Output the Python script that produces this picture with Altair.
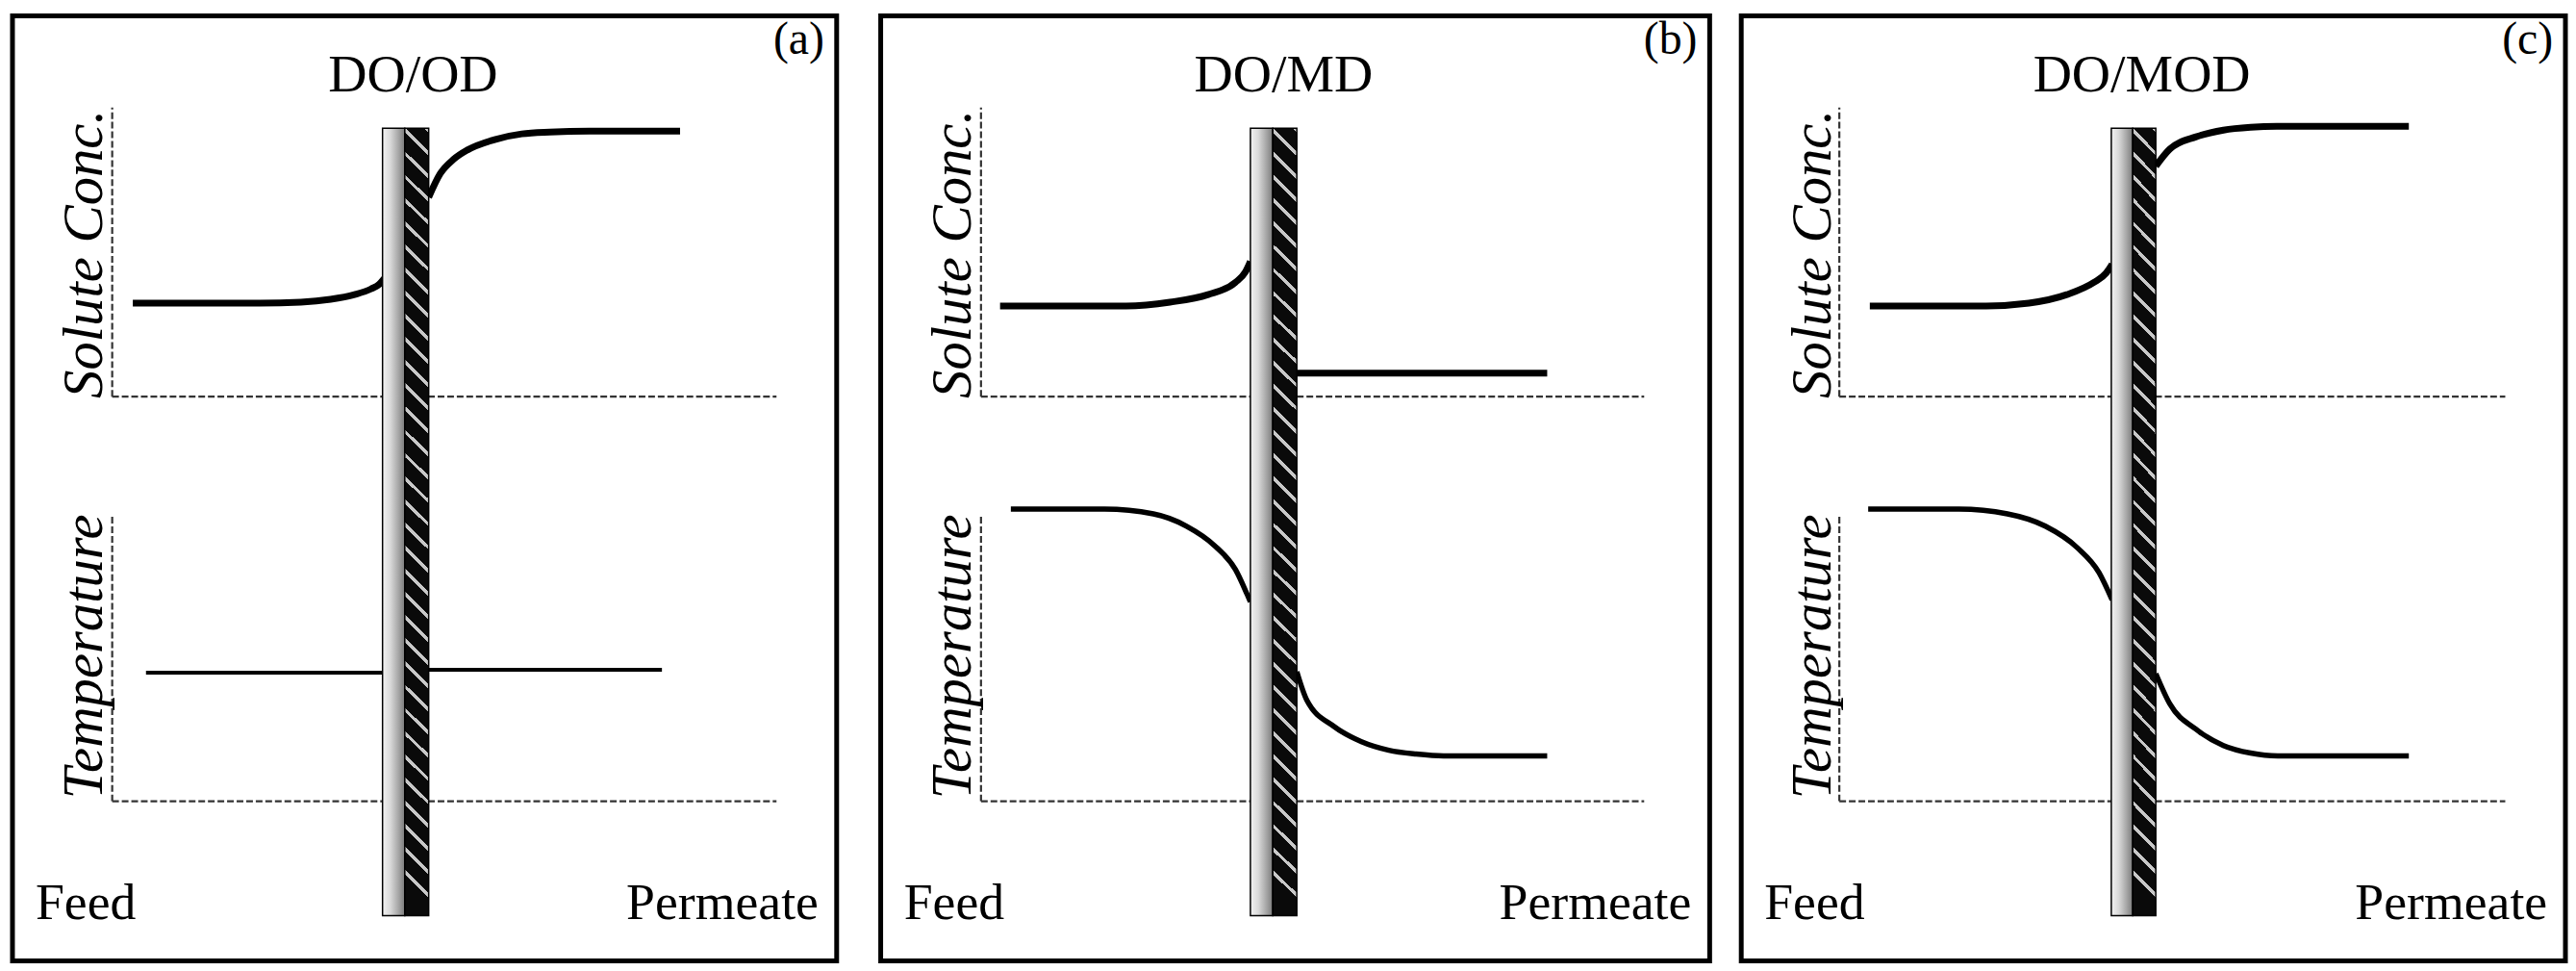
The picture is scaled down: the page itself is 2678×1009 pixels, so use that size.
import altair as alt
import pandas as pd

# ---------------- texts ----------------
panel_titles = ["DO/OD", "DO/MD", "DO/MOD"]
panel_tags = ["(a)", "(b)", "(c)"]
side_labels = ["Feed", "Permeate"]
axis_names = ["Solute Conc.", "Temperature"]

# ---------------- profile curves ----------------
# x: % of panel width from the left edge, y: % of panel height from the bottom edge
# panel (a)  DO/OD
a_sol_feed_x = [14.6, 30.0, 35.0, 38.6, 41.5, 43.5, 44.5, 45.1]
a_sol_feed_y = [69.6, 69.6, 69.7, 70.0, 70.5, 71.1, 71.6, 72.2]
a_sol_perm_x = [50.5, 51.9, 53.5, 55.2, 58.5, 61.8, 65.2, 70.0, 81.0]
a_sol_perm_y = [80.8, 83.3, 84.8, 85.8, 86.9, 87.5, 87.7, 87.8, 87.8]
a_tmp_feed_x = [16.2, 45.1]
a_tmp_feed_y = [30.5, 30.5]
a_tmp_perm_x = [50.5, 78.8]
a_tmp_perm_y = [30.8, 30.8]

# panel (b)  DO/MD
b_sol_feed_x = [14.4, 29.6, 34.9, 39.5, 42.8, 44.0, 44.6]
b_sol_feed_y = [69.3, 69.3, 69.7, 70.5, 71.8, 72.9, 74.0]
b_sol_perm_x = [50.2, 80.4]
b_sol_perm_y = [62.2, 62.2]
b_tmp_feed_x = [15.7, 27.0, 32.9, 36.9, 40.2, 42.8, 44.2, 44.6]
b_tmp_feed_y = [47.8, 47.8, 47.3, 46.0, 44.0, 41.4, 38.8, 38.0]
b_tmp_perm_x = [50.2, 51.4, 54.7, 58.0, 61.3, 64.6, 67.9, 80.4]
b_tmp_perm_y = [30.6, 27.6, 24.8, 23.2, 22.3, 21.9, 21.7, 21.7]

# panel (c)  DO/MOD
c_sol_feed_x = [15.6, 29.7, 34.9, 39.5, 42.8, 44.3, 45.0]
c_sol_feed_y = [69.3, 69.3, 69.6, 70.5, 71.8, 72.8, 73.7]
c_sol_perm_x = [50.3, 52.0, 55.2, 58.5, 61.8, 65.0, 81.0]
c_sol_perm_y = [84.1, 85.9, 87.2, 87.9, 88.2, 88.3, 88.3]
c_tmp_feed_x = [15.4, 26.4, 32.3, 36.9, 40.8, 43.4, 45.0]
c_tmp_feed_y = [47.8, 47.8, 47.3, 46.0, 43.7, 41.1, 38.2]
c_tmp_perm_x = [50.3, 52.0, 55.2, 58.5, 61.8, 65.1, 81.0]
c_tmp_perm_y = [30.4, 27.2, 24.5, 22.8, 22.0, 21.7, 21.7]

CURVES = [
    [(a_sol_feed_x, a_sol_feed_y), (a_sol_perm_x, a_sol_perm_y),
     (a_tmp_feed_x, a_tmp_feed_y), (a_tmp_perm_x, a_tmp_perm_y)],
    [(b_sol_feed_x, b_sol_feed_y), (b_sol_perm_x, b_sol_perm_y),
     (b_tmp_feed_x, b_tmp_feed_y), (b_tmp_perm_x, b_tmp_perm_y)],
    [(c_sol_feed_x, c_sol_feed_y), (c_sol_perm_x, c_sol_perm_y),
     (c_tmp_feed_x, c_tmp_feed_y), (c_tmp_perm_x, c_tmp_perm_y)],
]

# ---------------- layout (styles / positions) ----------------
PANEL_W = [861, 866, 861]
PANEL_H = 987
MEMBRANE = [  # light layer left, boundary, dark layer right
    (44.9, 47.6, 50.5),
    (44.6, 47.3, 50.2),
    (44.9, 47.5, 50.3),
]
MEM_BOTTOM, MEM_TOP = 4.8, 88.1
AXIS_X = [12.1, 12.1, 11.9]
AXIS_END = [92.7, 92.1, 92.7]
SOL_AX = (59.7, 90.3)
TMP_AX = (16.9, 47.3)
LINE_W = [[7, 7, 4, 4], [7, 7, 5.5, 5.5], [7, 7, 5.5, 5.5]]
FONT = '"Liberation Serif", "Times New Roman", Times, serif'


def stripe_gradient(n=34, frac=0.2, dark="#0a0a0a", light="#c8c8c8"):
    stops = []
    for i in range(n):
        s = round(i / n, 5)
        m = round((i + frac) / n, 5)
        e = round((i + 1) / n, 5)
        stops += [
            alt.GradientStop(offset=s, color=light),
            alt.GradientStop(offset=m, color=light),
            alt.GradientStop(offset=m, color=dark),
            alt.GradientStop(offset=e, color=dark),
        ]
    return alt.LinearGradient(gradient="linear", stops=stops, x1=1, y1=0, x2=0.97, y2=1)


light_grad = alt.LinearGradient(
    gradient="linear",
    stops=[
        alt.GradientStop(offset=0, color="#f2f2f2"),
        alt.GradientStop(offset=0.35, color="#d9d9d9"),
        alt.GradientStop(offset=0.7, color="#a8a8a8"),
        alt.GradientStop(offset=1, color="#7c7c7c"),
    ],
    x1=0, y1=0, x2=1, y2=0,
)

XS = alt.Scale(domain=[0, 100], nice=False, zero=False)
YS = alt.Scale(domain=[0, 100], nice=False, zero=False)


def panel(i):
    W = PANEL_W[i]
    ax = AXIS_X[i]
    axes_df = pd.DataFrame([
        dict(x=ax, x2=ax, y=SOL_AX[0], y2=SOL_AX[1]),
        dict(x=ax, x2=AXIS_END[i], y=SOL_AX[0], y2=SOL_AX[0]),
        dict(x=ax, x2=ax, y=TMP_AX[0], y2=TMP_AX[1]),
        dict(x=ax, x2=AXIS_END[i], y=TMP_AX[0], y2=TMP_AX[0]),
    ])
    axes = alt.Chart(axes_df).mark_rule(color="#333333", strokeWidth=2.2, strokeDash=[7, 3]).encode(
        x=alt.X("x:Q", scale=XS, axis=None), x2="x2:Q",
        y=alt.Y("y:Q", scale=YS, axis=None), y2="y2:Q",
    )

    rows = []
    for k, (xs, ys) in enumerate(CURVES[i]):
        for xv, yv in zip(xs, ys):
            rows.append(dict(x=xv, y=yv, s=k, w=LINE_W[i][k]))
    lines = alt.Chart(pd.DataFrame(rows)).mark_line(
        color="black", interpolate="monotone", strokeCap="butt"
    ).encode(
        x=alt.X("x:Q", scale=XS, axis=None),
        y=alt.Y("y:Q", scale=YS, axis=None),
        detail="s:N",
        order="x:Q",
        strokeWidth=alt.StrokeWidth("w:Q", scale=None),
    )

    l, mid, r = MEMBRANE[i]
    light_df = pd.DataFrame([dict(x=l, x2=mid, y=MEM_BOTTOM, y2=MEM_TOP)])
    dark_df = pd.DataFrame([dict(x=mid, x2=r, y=MEM_BOTTOM, y2=MEM_TOP)])
    light = alt.Chart(light_df).mark_rect(color=light_grad, stroke="black", strokeWidth=1.5).encode(
        x=alt.X("x:Q", scale=XS, axis=None), x2="x2:Q",
        y=alt.Y("y:Q", scale=YS, axis=None), y2="y2:Q",
    )
    dark = alt.Chart(dark_df).mark_rect(color=stripe_gradient(), stroke="black", strokeWidth=1.5).encode(
        x=alt.X("x:Q", scale=XS, axis=None), x2="x2:Q",
        y=alt.Y("y:Q", scale=YS, axis=None), y2="y2:Q",
    )

    def txt(df, **kw):
        return alt.Chart(df).mark_text(font=FONT, color="black", baseline="alphabetic", **kw).encode(
            x=alt.X("x:Q", scale=XS, axis=None),
            y=alt.Y("y:Q", scale=YS, axis=None),
            text="t:N",
        )

    title = txt(pd.DataFrame([dict(x=48.6, y=92.0, t=panel_titles[i])]), fontSize=56, align="center")
    tag = txt(pd.DataFrame([dict(x=98.5, y=96.0, t=panel_tags[i])]), fontSize=48, align="right")
    feed = txt(pd.DataFrame([dict(x=2.8, y=4.4, t=side_labels[0])]), fontSize=54, align="left")
    perm = txt(pd.DataFrame([dict(x=97.8, y=4.4, t=side_labels[1])]), fontSize=54, align="right")
    ylabs = txt(
        pd.DataFrame([dict(x=10.8, y=74.8, t=axis_names[0]), dict(x=10.8, y=32.2, t=axis_names[1])]),
        fontSize=59, align="center", angle=270, fontStyle="italic",
    )

    return alt.layer(axes, lines, light, dark, title, tag, feed, perm, ylabs).properties(
        width=W, height=PANEL_H
    )


chart = alt.hconcat(
    panel(0),
    alt.hconcat(panel(1), panel(2), spacing=27),
    spacing=40,
).properties(
    padding={"left": 2, "top": 3, "right": 0, "bottom": 0},
    background="white",
).configure_view(stroke="black", strokeWidth=5)

chart.save("out.html", embed_options={"renderer": "svg", "actions": False})
